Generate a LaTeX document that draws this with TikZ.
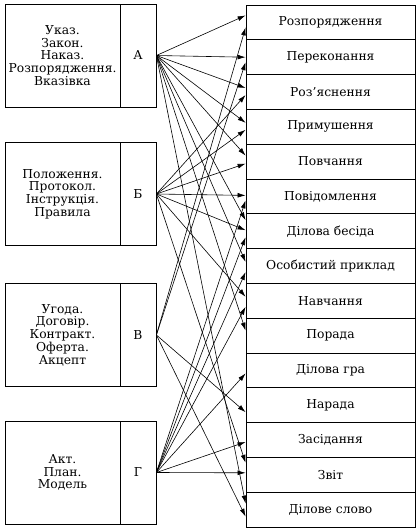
\documentclass[tikz,border=0pt]{standalone}
\usepackage{fontspec}
\setmainfont{DejaVu Serif}
\usetikzlibrary{arrows.meta,calc}
\begin{document}
\begin{tikzpicture}[x=1pt,y=-1pt,
  txt/.style={font=\fontsize{12.3}{12.8}\selectfont},
  leftbox/.style={draw, line width=0.8pt, minimum width=115pt, minimum height=103pt, inner sep=0pt, align=center, txt},
  letbox/.style={draw, line width=0.8pt, minimum width=36pt, minimum height=103pt, inner sep=0pt, txt},
  rowbox/.style={draw, line width=0.8pt, minimum width=169pt, minimum height=34.8pt, inner sep=0pt, txt},
  arr/.style={line width=0.6pt, -{Latex[length=8pt,width=4.8pt]}}]
\useasboundingbox (0,0) rectangle (417,530);
% left groups
\node[leftbox] (tA) at (62.5,55.5) {Указ.\\Закон.\\Наказ.\\Розпорядження.\\Вказівка};
\node[letbox] (A) at (138,55.5) {А};
\node[leftbox] (tB) at (62.5,194) {Положення.\\Протокол.\\Інструкція.\\Правила};
\node[letbox] (B) at (138,194) {Б};
\node[leftbox] (tV) at (62.5,335) {Угода.\\Договір.\\Контракт.\\Оферта.\\Акцепт};
\node[letbox] (V) at (138,335) {В};
\node[leftbox] (tG) at (62.5,472.5) {Акт.\\План.\\Модель};
\node[letbox] (G) at (138,472.5) {Г};
% right column
\foreach \t [count=\i from 0] in {Розпорядження,Переконання,Роз’яснення,Примушення,Повчання,Повідомлення,Ділова бесіда,Особистий приклад,Навчання,Порада,Ділова гра,Нарада,Засідання,Звіт,Ділове слово}
  \node[rowbox] (r\i) at (330.5,{22.4+34.8*\i}) {\t};
% arrows from A
\draw[arr] (A.east) -- ($(r0.west)+(0,-7)$);
\draw[arr] (A.east) -- ($(r1.west)+(0,0)$);
\draw[arr] (A.east) -- ($(r2.west)+(0,-4)$);
\draw[arr] (A.east) -- ($(r3.west)+(0,-4)$);
\draw[arr] (A.east) -- ($(r4.west)+(0,-6)$);
\draw[arr] (A.east) -- ($(r6.west)+(0,-11)$);
\draw[arr] (A.east) -- ($(r7.west)+(0,-4)$);
\draw[arr] (A.east) -- ($(r9.west)+(0,-5)$);
\draw[arr] (A.east) -- ($(r14.west)+(0,-6)$);
% arrows from B
\draw[arr] (B.east) -- ($(r2.west)+(0,3)$);
\draw[arr] (B.east) -- ($(r3.west)+(0,3)$);
\draw[arr] (B.east) -- ($(r4.west)+(0,2)$);
\draw[arr] (B.east) -- ($(r5.west)+(0,-1)$);
\draw[arr] (B.east) -- ($(r6.west)+(0,-1)$);
\draw[arr] (B.east) -- ($(r8.west)+(0,-4)$);
\draw[arr] (B.east) -- ($(r13.west)+(0,-12)$);
% arrows from V
\draw[arr] (V.east) -- ($(r0.west)+(0,5)$);
\draw[arr] (V.east) -- ($(r1.west)+(0,5)$);
\draw[arr] (V.east) -- ($(r11.west)+(0,7)$);
\draw[arr] (V.east) -- ($(r14.west)+(0,7)$);
% arrows from G
\draw[arr] (G.east) -- ($(r5.west)+(0,4)$);
\draw[arr] (G.east) -- ($(r6.west)+(0,6)$);
\draw[arr] (G.east) -- ($(r7.west)+(0,6)$);
\draw[arr] (G.east) -- ($(r8.west)+(0,6)$);
\draw[arr] (G.east) -- ($(r10.west)+(0,3)$);
\draw[arr] (G.east) -- ($(r12.west)+(0,2)$);
\draw[arr] (G.east) -- ($(r13.west)+(0,-2)$);
\end{tikzpicture}
\end{document}
